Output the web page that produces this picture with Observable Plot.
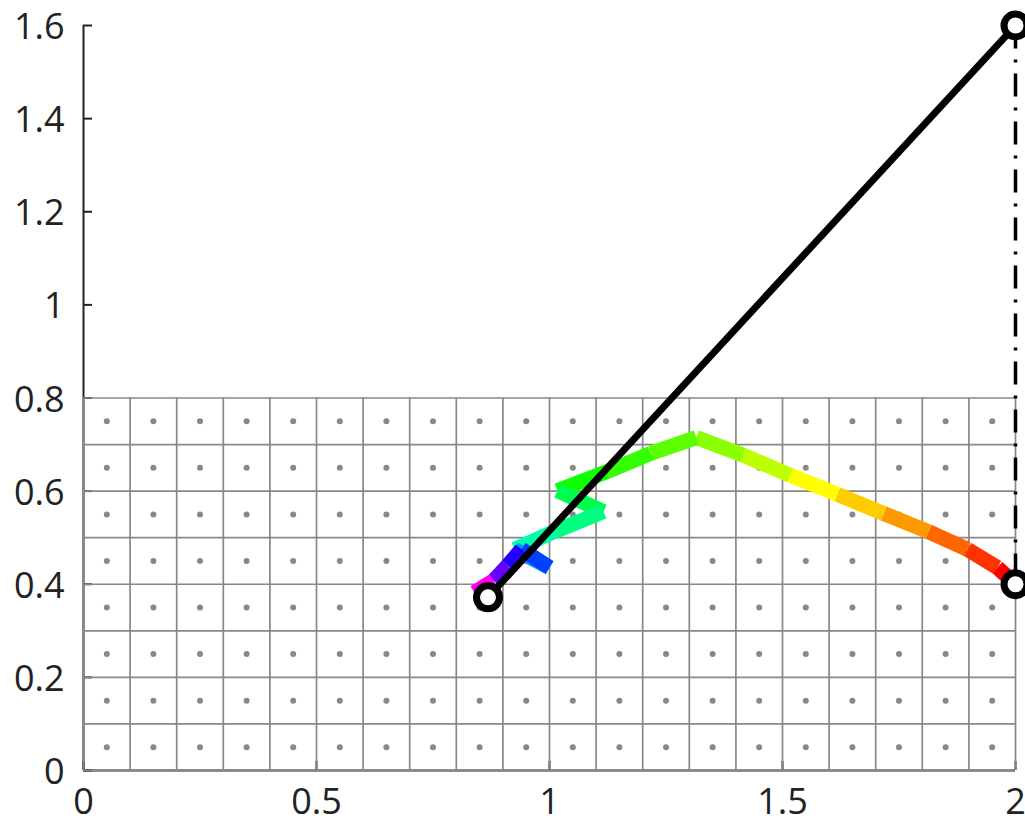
<!DOCTYPE html>
<html>
<head>
<meta charset="utf-8">
<script src="https://cdn.jsdelivr.net/npm/d3@7"></script>
<script src="https://cdn.jsdelivr.net/npm/@observablehq/plot@0.6"></script>
<style>
  html, body { margin: 0; padding: 0; background: #fff; overflow: hidden; }
  #chart svg { display: block; overflow: visible; }
</style>
</head>
<body>
<div id="chart"></div>
<script>
// ---- data ----
const xTicks = [0, 0.5, 1, 1.5, 2];
const yTicks = [0, 0.2, 0.4, 0.6, 0.8, 1, 1.2, 1.4, 1.6];
const xTickLabels = ["0", "0.5", "1", "1.5", "2"];
const yTickLabels = ["0", "0.2", "0.4", "0.6", "0.8", "1", "1.2", "1.4", "1.6"];

// grid of cells (0.1 x 0.1) covering x 0..2, y 0..0.8
const gridX = [0,0.1,0.2,0.3,0.4,0.5,0.6,0.7,0.8,0.9,1,1.1,1.2,1.3,1.4,1.5,1.6,1.7,1.8,1.9,2];
const gridY = [0,0.1,0.2,0.3,0.4,0.5,0.6,0.7,0.8];

// coloured trajectory
const pathX = [0.839, 0.880, 0.910, 0.940, 1.000, 0.925, 1.015, 1.116, 1.017, 1.124, 1.217, 1.315, 1.416, 1.517, 1.618, 1.717, 1.813, 1.897, 1.961, 2.000];
const pathY = [0.382, 0.408, 0.440, 0.475, 0.436, 0.475, 0.515, 0.556, 0.601, 0.642, 0.681, 0.715, 0.677, 0.634, 0.593, 0.552, 0.513, 0.475, 0.436, 0.400];
const segColors = ["#ff00ee", "#6600ff", "#2200ff", "#0040ff", "#0099ff", "#00ffaa", "#00ff80", "#00ff4d", "#0dff00", "#33ff00", "#5cff00", "#8cff00", "#bfff00", "#ffff00", "#ffcc00", "#ff9900", "#ff6600", "#ff3300", "#ff0000"];

// black link and joints
const armX = [0.868, 2];
const armY = [0.372, 1.6];
const jointX = [0.868, 2, 2];
const jointY = [0.372, 1.6, 0.4];
const dashX = [2, 2];
const dashY = [1.6, 0.4];

// ---- derived tables ----
const cells = [];
for (const gx of gridX.slice(0, -1)) for (const gy of gridY.slice(0, -1)) cells.push({x: gx + 0.05, y: gy + 0.05});
const segs = segColors.map((c, i) => ({x1: pathX[i], y1: pathY[i], x2: pathX[i + 1], y2: pathY[i + 1], c})).reverse();
const arm = [{x1: armX[0], y1: armY[0], x2: armX[1], y2: armY[1]}];
const dash = [{x1: dashX[0], y1: dashY[0], x2: dashX[1], y2: dashY[1]}];
const joints = jointX.map((x, i) => ({x, y: jointY[i]}));

const W = 1025, H = 824, ML = 83, MR = 10, MT = 25, MB = 54;
const frameW = W - ML - MR, frameH = H - MT - MB;
const fmtX = d => xTickLabels[xTicks.indexOf(d)];
const fmtY = d => yTickLabels[yTicks.indexOf(d)];
const FS = 36;

const plot = Plot.plot({
  width: W, height: H,
  marginLeft: ML, marginRight: MR, marginTop: MT, marginBottom: MB,
  style: {fontFamily: "'Open Sans', sans-serif", color: "#222", background: "#fff", overflow: "visible"},
  x: {domain: [0, 2], axis: null},
  y: {domain: [0, 1.6], axis: null},
  color: {type: "identity"},
  marks: [
    // axes lines and inward ticks
    Plot.ruleX([0], {stroke: "#222", strokeWidth: 2}),
    Plot.ruleY([0], {stroke: "#222", strokeWidth: 2}),
    Plot.tickY(yTicks, {y: d => d, stroke: "#222", strokeWidth: 2, insetRight: frameW - 9}),
    Plot.tickX(xTicks, {x: d => d, stroke: "#222", strokeWidth: 2, insetTop: frameH - 9}),
    Plot.text(xTicks, {x: d => d, text: fmtX, frameAnchor: "bottom", lineAnchor: "top", dy: 18, fontSize: FS, fill: "#222"}),
    Plot.text(yTicks, {y: d => d, text: fmtY, frameAnchor: "left", textAnchor: "end", lineAnchor: "middle", dx: -19, dy: 2, fontSize: FS, fill: "#222"}),
    // grid
    Plot.ruleX(gridX, {x: d => d, y1: 0, y2: 0.8, stroke: "#888", strokeWidth: 1.7}),
    Plot.ruleY(gridY, {y: d => d, x1: 0, x2: 2, stroke: "#888", strokeWidth: 1.7}),
    Plot.dot(cells, {x: "x", y: "y", r: 3, fill: "#888", stroke: null}),
    // coloured path
    Plot.link(segs, {x1: "x1", y1: "y1", x2: "x2", y2: "y2", stroke: "c", strokeWidth: 15, strokeLinecap: "butt", curve: "linear"}),
    // dash-dot vertical
    Plot.link(dash, {x1: "x1", y1: "y1", x2: "x2", y2: "y2", stroke: "#000", strokeWidth: 3.5, strokeDasharray: "23,11,3,11", curve: "linear"}),
    // black arm
    Plot.link(arm, {x1: "x1", y1: "y1", x2: "x2", y2: "y2", stroke: "#000", strokeWidth: 7, strokeLinecap: "butt", curve: "linear"}),
    Plot.dot(joints, {x: "x", y: "y", r: 11.5, fill: "#fff", stroke: "#000", strokeWidth: 7})
  ]
});
document.getElementById("chart").appendChild(plot);
</script>
</body>
</html>
